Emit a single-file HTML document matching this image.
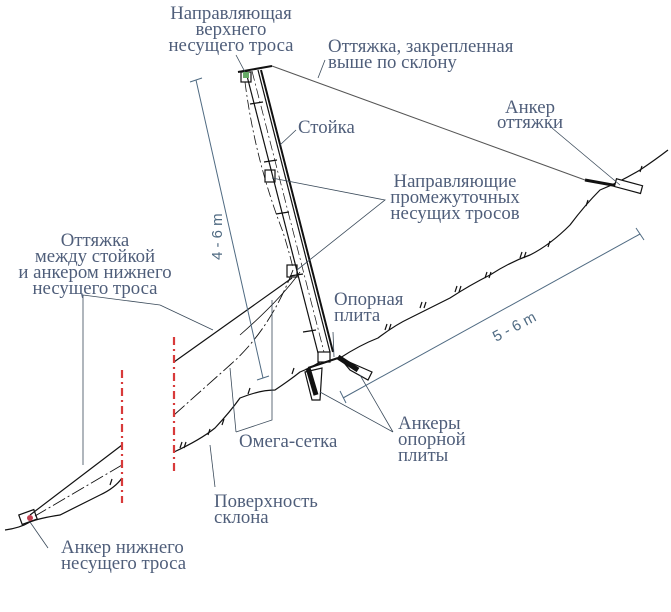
<!DOCTYPE html>
<html><head><meta charset="utf-8"><style>
html,body{margin:0;padding:0;background:#fff}
svg{display:block}
text{font-family:"Liberation Serif","DejaVu Serif",serif;font-size:18.8px;fill:#4f5e7a}
.d{font-family:"Liberation Sans",sans-serif;font-size:15px;fill:#4f6a82}
</style></head><body>
<svg width="671" height="612" viewBox="0 0 671 612" xmlns="http://www.w3.org/2000/svg">
<g fill="none" stroke="#111" stroke-width="1.2">
<line x1="246" y1="72" x2="318" y2="353"/>
<line x1="258" y1="70" x2="330" y2="352"/>
<line x1="261" y1="70" x2="333" y2="352" stroke-width="2"/>
<line x1="252" y1="71" x2="324" y2="352" stroke-dasharray="10,3,2,3" stroke-width="0.7"/>
<line x1="250" y1="104" x2="263" y2="102"/>
<line x1="264" y1="162" x2="277" y2="160"/>
<line x1="276" y1="214" x2="289" y2="212"/>
<line x1="290" y1="276" x2="303" y2="274"/>
<line x1="303" y1="332" x2="316" y2="330"/>
<rect x="318" y="352" width="12" height="10"/>
<line x1="238" y1="72" x2="272" y2="66" stroke-width="2"/>
<rect x="241" y="72" width="10" height="10"/>
<rect x="243" y="72" width="6" height="6" fill="#6a6" stroke="none"/>
<rect x="265" y="170" width="10" height="12"/>
<rect x="287" y="265" width="10" height="12"/>
<path d="M245 82 Q255 160 283 232 Q290 255 293 268" stroke-dasharray="10,3,2,3" stroke-width="0.8"/>
<path d="M293 270 Q270 330 230 365 L174 415" stroke-dasharray="14,3,2,3" stroke-width="0.9"/>
<path d="M300 272 Q280 300 240 335" stroke-width="0.8"/>
<path d="M292 278 L174 362"/>
<path d="M122 445 L30 515"/>
<path d="M122 465 L35 516" stroke-dasharray="14,3,2,3" stroke-width="0.9"/>
<path d="M5 530 Q20 528 30 522 Q40 518 60 515 Q80 505 100 495 Q115 488 122 478"/>
<path d="M174 452 Q200 440 215 428 Q230 412 240 398 Q260 390 275 390 Q290 380 300 372 Q310 368 320 362"/>
<rect x="20" y="512" width="16" height="10" transform="rotate(-20 28 517)"/>
<circle cx="30" cy="518" r="3" fill="#c04050" stroke="none"/>
<line x1="308" y1="368" x2="338" y2="358" stroke-width="2"/>
<path d="M305 372 L322 368 L320 400 L312 400 Z" fill="#fff"/>
<path d="M308 368 L316 395" stroke-width="5"/>
<path d="M340 358 L372 372 L368 380 L350 370 Z"/>
<path d="M338 357 L358 370" stroke-width="5"/>
<path d="M340 358 Q360 345 378 338 Q395 325 410 318 Q430 308 450 298 Q470 285 490 275 Q510 262 530 255 Q550 245 570 225 Q585 205 600 190 Q620 182 640 170 Q655 160 668 150"/>
<path d="M272 66 L585 180" stroke="#555" stroke-width="1"/>
<path d="M585 180 L640 190" stroke-width="3"/>
<rect x="615" y="182" width="27" height="8" transform="rotate(15 628 186)" fill="#fff"/>
</g>
<g stroke="#111" stroke-width="1.2" fill="none">
<path d="M385 330 l2 -6 M389 330 l2 -6 M420 308 l2 -6 M424 308 l2 -6 M455 292 l2 -6 M459 292 l2 -6 M485 278 l2 -6 M489 278 l2 -6 M520 258 l2 -6 M524 258 l2 -6 M548 247 l2 -6 M586 206 l2 -6 M640 172 l2 -6 M180 448 l2 -6 M184 448 l2 -6 M208 435 l2 -6 M222 425 l2 -6 M248 394 l2 -6 M292 374 l2 -6 M110 485 l2 -6"/>
</g>
<g stroke="#d83a3a" stroke-width="2.2" stroke-dasharray="8,4,2,4">
<line x1="122" y1="370" x2="122" y2="503"/>
<line x1="174" y1="337" x2="174" y2="471"/>
</g>
<g stroke="#3a4a5a" stroke-width="0.8" fill="none">
<line x1="236" y1="55" x2="245" y2="72"/>
<line x1="325" y1="60" x2="318" y2="78"/>
<line x1="552" y1="128" x2="620" y2="185"/>
<line x1="296" y1="130" x2="280" y2="145"/>
<path d="M272 178 L385 200 L297 270"/>
<path d="M83 295 L83 465 M83 295 L160 305"/>
<path d="M160 305 L213 330"/>
<path d="M236 432 L230 368 M236 432 L272 420 L272 300"/>
<path d="M210 445 L215 487"/>
<line x1="333" y1="332" x2="334" y2="357"/>
<path d="M393 432 L320 392 M393 432 L360 375"/>
<line x1="48" y1="548" x2="30" y2="522"/>
</g>
<g stroke="#4f6a82" stroke-width="1" fill="none">
<line x1="196" y1="80" x2="263" y2="378"/>
<line x1="190" y1="82" x2="202" y2="78"/>
<line x1="257" y1="380" x2="269" y2="376"/>
<line x1="343" y1="398" x2="640" y2="234"/>
<line x1="340" y1="391" x2="346" y2="403"/>
<line x1="636" y1="228" x2="644" y2="240"/>
</g>
<text class="d" transform="translate(222 260) rotate(-90)">4 - 6 m</text>
<text class="d" transform="translate(496 342) rotate(-28)">5 - 6 m</text>
<g text-anchor="middle">
<text x="231" y="19">Направляющая</text><text x="231" y="35">верхнего</text><text x="231" y="51">несущего троса</text>
<text x="530" y="113">Анкер</text><text x="530" y="128">оттяжки</text>
<text x="455" y="187">Направляющие</text><text x="455" y="203">промежуточных</text><text x="455" y="219">несущих тросов</text>
<text x="95" y="246">Оттяжка</text><text x="95" y="262">между стойкой</text><text x="95" y="278">и анкером нижнего</text><text x="95" y="294">несущего троса</text>
</g>
<text x="328" y="52">Оттяжка, закрепленная</text><text x="328" y="68">выше по склону</text>
<text x="298" y="133">Стойка</text>
<text x="334" y="305">Опорная</text><text x="334" y="321">плита</text>
<text x="398" y="429">Анкеры</text><text x="398" y="445">опорной</text><text x="398" y="461">плиты</text>
<text x="239" y="447">Омега-сетка</text>
<text x="214" y="507">Поверхность</text><text x="214" y="523">склона</text>
<text x="61" y="553">Анкер нижнего</text><text x="61" y="569">несущего троса</text>
</svg>
</body></html>
